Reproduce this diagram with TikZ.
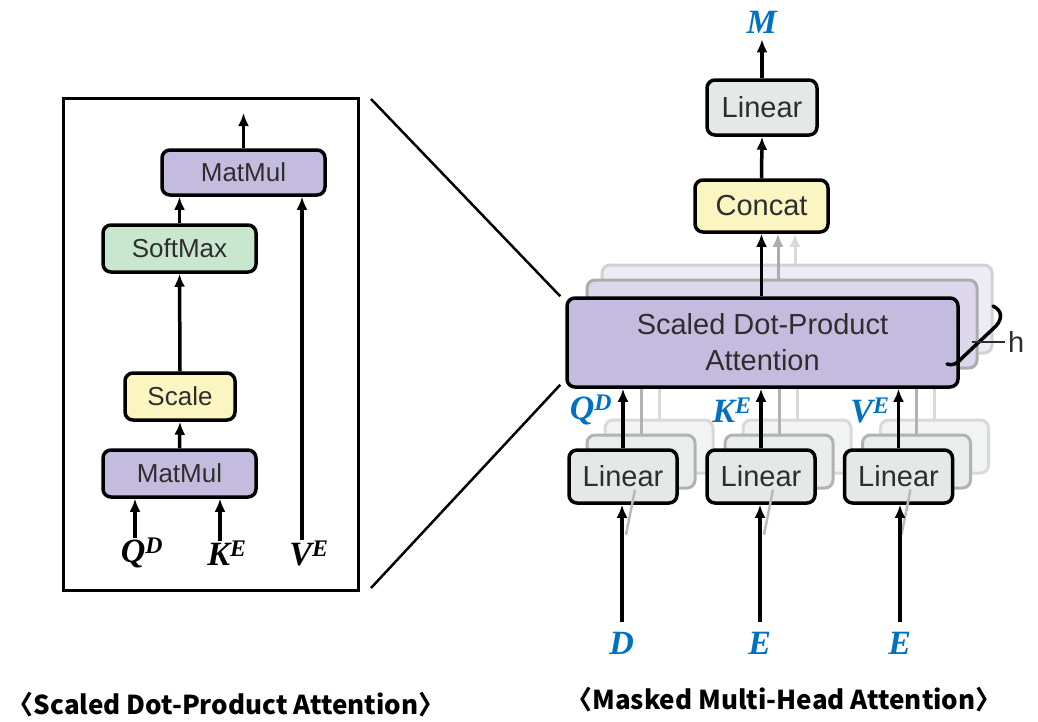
\documentclass[tikz,border=0pt]{standalone}
\usepackage{fontspec}
\usetikzlibrary{arrows.meta,positioning}
\newfontfamily\boxfont{Liberation Sans}
\newfontfamily\capfont{Noto Sans CJK KR}
\newfontfamily\varfont{Liberation Serif}
\newcommand{\vlab}[2]{{\varfont\bfseries\itshape #1\textsuperscript{#2}}}
\definecolor{mulpurple}{HTML}{C4BCDF}
\definecolor{softgreen}{HTML}{C9E6CF}
\definecolor{paleyellow}{HTML}{FBF5C2}
\definecolor{linegray}{HTML}{E4E9E7}
\definecolor{textgray}{HTML}{2E2E2E}
\definecolor{labelblue}{HTML}{0070C0}

\begin{document}
\begin{tikzpicture}[x=1pt,y=-1pt,
    block/.style={draw, line width=3.5pt, rounded corners=8pt, inner sep=0pt,
      text=textgray, align=center},
    small/.style={block, font=\boxfont\fontsize{26}{30}\selectfont},
    large/.style={block, font=\boxfont\fontsize{29}{36}\selectfont},
    ghost/.style={draw=gray!#1, line width=3pt, rounded corners=8pt, inner sep=0pt},
    arr/.style={line width=3.5pt, -{Latex[length=13pt,width=11pt]}},
    ghostarr/.style={line width=3pt, draw=gray!#1, -{Latex[length=13pt,width=11pt]}},
    var/.style={inner sep=0pt, font=\fontsize{34}{36}\selectfont},
    bluevar/.style={var, text=labelblue},
    caption/.style={font=\capfont\bfseries\fontsize{26}{30}\selectfont},
  ]
  \useasboundingbox (0,0) rectangle (1038,721);

  % scaled dot-product attention (left)
  \draw[line width=3pt] (63,98) rectangle (358,590);
  \node[small, fill=mulpurple, minimum width=163, minimum height=45] (mmTop) at (243.5,172.5) {MatMul};
  \node[small, fill=softgreen, minimum width=153, minimum height=47] (softmax) at (179.5,248.5) {SoftMax};
  \node[small, fill=paleyellow, minimum width=110, minimum height=47] (scale) at (180,396.5) {Scale};
  \node[small, fill=mulpurple, minimum width=153, minimum height=47] (mmBot) at (179.5,473.5) {MatMul};
  \coordinate (out) at (243.5,113);

  \node[var] (qL) at (142,553) {\vlab{Q}{D}};
  \node[var] (kL) at (227,553) {\vlab{K}{E}};
  \node[var] (vL) at (309,553) {\vlab{V}{E}};

  \draw[arr] (qL.north -| 135,0) -- (mmBot.south -| 135,0);
  \draw[arr] (kL.north -| 220,0) -- (mmBot.south -| 220,0);
  \draw[arr] (vL.north -| 302,0) -- (mmTop.south -| 302,0);
  \draw[arr] (mmBot.north) -- (scale.south);
  \draw[arr] (scale.north) -- (softmax.south);
  \draw[arr] (softmax.north) -- (softmax.north |- mmTop.south);
  \draw[arr] (mmTop.north) -- (out);

  % multi-head attention (right)
  \node[ghost=35, fill=mulpurple!30, minimum width=390, minimum height=88] (sdpa3) at (797,309) {};
  \node[ghost=65, fill=mulpurple!60, minimum width=390, minimum height=88] (sdpa2) at (782,324) {};

  \foreach \n/\x in {lin1/623, lin2/761, lin3/898.5} {
    \node[ghost=30, fill=linegray!50, minimum width=108, minimum height=53] (\n c) at (\x+36,446.5) {};
    \node[ghost=60, fill=linegray!80, minimum width=108, minimum height=53] (\n b) at (\x+18,461.5) {};
    \draw[line width=3pt, gray!30] (\n c.north) -- (\n c.north |- sdpa3.south);
    \draw[line width=3pt, gray!60] (\n b.north) -- (\n b.north |- sdpa2.south);
  }

  \node[large, fill=mulpurple, minimum width=391, minimum height=89] (sdpa) at (762.5,342.5) {Scaled Dot-Product\\Attention};
  \node[large, fill=paleyellow, minimum width=133, minimum height=52] (concat) at (761.5,206) {Concat};
  \node[large, fill=linegray, minimum width=110, minimum height=55] (linTop) at (762,107.5) {Linear};
  \node[bluevar] (mL) at (762,22) {\vlab{M}{}};

  \node[large, fill=linegray, minimum width=108, minimum height=53] (lin1) at (623,476.5) {Linear};
  \node[large, fill=linegray, minimum width=108, minimum height=53] (lin2) at (761,476.5) {Linear};
  \node[large, fill=linegray, minimum width=108, minimum height=53] (lin3) at (898.5,476.5) {Linear};

  \node[bluevar] (dL) at (622,643) {\vlab{D}{}};
  \node[bluevar] (e1L) at (760,643) {\vlab{E}{}};
  \node[bluevar] (e2L) at (900,643) {\vlab{E}{}};

  \node[bluevar] (qB) at (591,410) {\vlab{Q}{D}};
  \node[bluevar] (kB) at (732,410) {\vlab{K}{E}};
  \node[bluevar] (vB) at (870,410) {\vlab{V}{E}};

  \foreach \l/\n in {dL/lin1, e1L/lin2, e2L/lin3} {
    \draw[line width=2.5pt, gray!55] ([xshift=3pt,yshift=-30pt]\n.south) -- ([xshift=-6pt]\n b.south);
    \draw[arr] ([yshift=10pt]\l.north) -- (\l.north |- \n.south);
    \draw[arr] (\n.north) -- (\n.north |- sdpa.south);
  }

  \draw[ghostarr=30] (sdpa3.north -| 795,0) -- (concat.south -| 795,0);
  \draw[ghostarr=65] (sdpa2.north -| 778,0) -- (concat.south -| 778,0);
  \draw[arr] (sdpa.north -| concat.south) -- (concat.south);
  \draw[arr] (concat.north) -- (linTop.south);
  \draw[arr] (linTop.north) -- ([yshift=-6pt]mL.south);

  % heads bracket
  \draw[line width=3.5pt, line cap=round] (993,306) .. controls (1003,311) and (1002,319) .. (996,326)
    -- (962,358) .. controls (957,364) and (952,366) .. (947,364);
  \draw[line width=2.5pt, textgray] (972,342) -- (1005,342);
  \node[font=\boxfont\fontsize{29}{30}\selectfont, text=textgray, anchor=west, inner sep=0pt] (hL) at (1008,342) {h};

  % zoom lines
  \draw[line width=2.5pt] (371,99) -- ([xshift=-5pt]sdpa.north west);
  \draw[line width=2.5pt] (371,588) -- ([xshift=-5pt,yshift=4pt]sdpa.south west);

  % captions
  \node[caption] (capL) at (226,705) {〈Scaled Dot-Product Attention〉};
  \node[caption] (capR) at (784,700) {〈Masked Multi-Head Attention〉};
\end{tikzpicture}
\end{document}
